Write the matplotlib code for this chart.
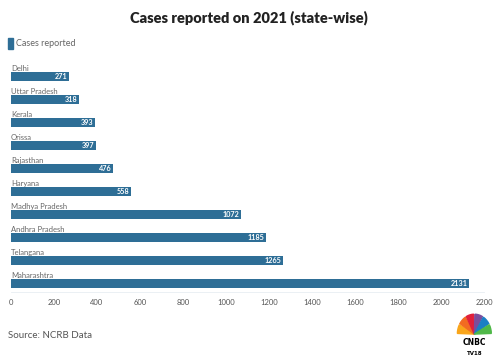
import matplotlib
matplotlib.use("Agg")
import matplotlib.pyplot as plt
from matplotlib.patches import Wedge, Rectangle

states = ["Delhi", "Uttar Pradesh", "Kerala", "Orissa", "Rajasthan",
          "Haryana", "Madhya Pradesh", "Andhra Pradesh", "Telangana", "Maharashtra"]
cases = [271, 318, 393, 397, 476, 558, 1072, 1185, 1265, 2131]
x_ticks = [0, 200, 400, 600, 800, 1000, 1200, 1400, 1600, 1800, 2000, 2200]

bar_color = "#2e6e96"
plt.rcParams["font.family"] = ["Lato", "DejaVu Sans"]

fig = plt.figure(figsize=(4.98, 3.6), dpi=100)
ax = fig.add_axes([0.022, 0.189, 0.95, 0.639])

ypos = list(range(len(states)))
ax.barh(ypos, cases, height=0.39, color=bar_color)

for y, name, v in zip(ypos, states, cases):
    ax.text(0, y - 0.38, name, ha="left", va="center", fontsize=5.5, color="#666666")
    ax.text(v - 8, y, str(v), ha="right", va="center", fontsize=5.2,
            color="white", fontweight="bold")

ax.set_xlim(0, 2200)
ax.set_ylim(9.35, -0.65)
ax.set_xticks(x_ticks)
ax.set_xticklabels([str(t) for t in x_ticks])
ax.set_yticks([])
ax.tick_params(axis="x", length=0, labelsize=5.5, labelcolor="#555555", pad=5)
for s in ["top", "right", "left"]:
    ax.spines[s].set_visible(False)
ax.spines["bottom"].set_color("#e8eef3")
ax.spines["bottom"].set_linewidth(0.6)

fig.text(0.5, 0.95, "Cases reported on 2021 (state-wise)", ha="center", va="center",
         fontsize=10.5, fontweight="heavy", color="#222222")

# legend
fig.patches.append(Rectangle((0.016, 0.865), 0.011, 0.03, transform=fig.transFigure,
                             color=bar_color))
fig.text(0.033, 0.88, "Cases reported", ha="left", va="center", fontsize=6.5, color="#666666")

fig.text(0.016, 0.067, "Source: NCRB Data", ha="left", va="center", fontsize=7, color="#555555")

# logo
logo = fig.add_axes([0.915, 0.0, 0.075, 0.13])
logo.set_xlim(-1.1, 1.1)
logo.set_ylim(-1.2, 1.15)
logo.axis("off")
peacock = ["#f9a51a", "#f26b21", "#e0203b", "#7b4d9c", "#1b7fc4", "#4fb848"]
for i, c in enumerate(peacock):
    a0 = 180 - i * 30
    logo.add_patch(Wedge((0, 0.1), 1.0, a0 - 28, a0 - 2, color=c))
logo.text(0, -0.3, "CNBC", ha="center", va="center", fontsize=5.5, fontweight="heavy",
          family="DejaVu Sans")
logo.text(0, -0.85, "TV18", ha="center", va="center", fontsize=4, fontweight="bold",
          family="DejaVu Sans")

fig.savefig("out.png", dpi=100)
